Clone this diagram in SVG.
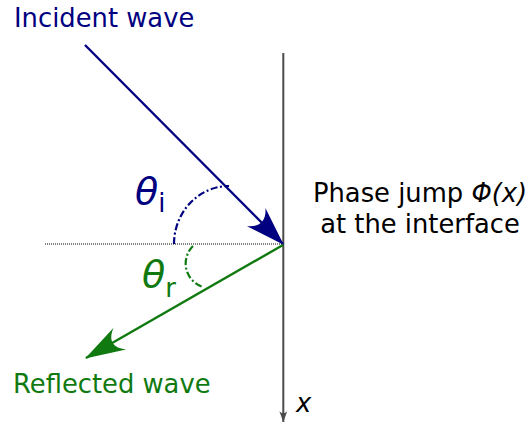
<svg xmlns="http://www.w3.org/2000/svg" width="530" height="424" viewBox="0 0 530 424">
  <style>
    text { font-family: "DejaVu Sans", "Liberation Sans", sans-serif; font-size: 25.8px; }
    .blue { fill: #000080; }
    .green { fill: #107a10; }
    .dark { fill: #000000; }
    .it { font-style: italic; }
    .ln-blue { stroke: #000080; stroke-width: 2.4; fill: none; }
    .ln-green { stroke: #107a10; stroke-width: 2.4; fill: none; }
    .arc { stroke-width: 2.2; stroke-dasharray: 7,2.5,2,2.5; fill: none; }
  </style>
  <defs>
    <marker id="ah-blue" markerUnits="userSpaceOnUse" orient="auto" markerWidth="44" markerHeight="30" refX="0" refY="0" viewBox="-40 -15 44 30" overflow="visible">
      <path d="M1,0 L-38,-13 C-28,-4.5 -28,4.5 -38,13 Z" fill="#000080"/>
    </marker>
    <marker id="ah-green" markerUnits="userSpaceOnUse" orient="auto" markerWidth="44" markerHeight="30" refX="0" refY="0" viewBox="-40 -15 44 30" overflow="visible">
      <path d="M1,0 L-39,-12.5 C-28,-4.5 -28,4.5 -39,12.5 Z" fill="#107a10"/>
    </marker>
    <marker id="ah-gray" markerUnits="userSpaceOnUse" orient="auto" markerWidth="14" markerHeight="10" refX="0" refY="0" viewBox="-12 -5 14 10" overflow="visible">
      <path d="M0,0 L-11,-4 C-8,-1.4 -8,1.4 -11,4 Z" fill="#4a4a4a"/>
    </marker>
  </defs>

  <g id="connectors">
    <line id="normal" x1="45" y1="244" x2="283" y2="244" stroke="#000" stroke-width="1" stroke-dasharray="1,1"/>
    <line id="interface-axis" x1="283.3" y1="53" x2="283.3" y2="422" stroke="#4a4a4a" stroke-width="2" marker-end="url(#ah-gray)"/>
    <line id="incident-ray" class="ln-blue" x1="85" y1="45" x2="283" y2="244" marker-end="url(#ah-blue)"/>
    <line id="reflected-ray" class="ln-green" x1="283" y1="245" x2="86" y2="358" marker-end="url(#ah-green)"/>
  </g>

  <g id="angle-incident">
    <path class="arc" stroke="#000080" d="M174,244 A55,58 0 0 1 229,186"/>
    <text x="135" y="204" class="blue"><tspan class="it" font-size="38">θ</tspan><tspan dy="8">i</tspan></text>
  </g>

  <g id="angle-reflected">
    <path class="arc" stroke="#107a10" d="M193,246 A24.6,24.6 0 0 0 203,287"/>
    <text x="142" y="287" class="green"><tspan class="it" font-size="38">θ</tspan><tspan dy="10">r</tspan></text>
  </g>

  <g id="label-incident">
    <text x="14" y="27" class="blue">Incident wave</text>
  </g>

  <g id="label-reflected">
    <text x="13" y="393" class="green">Reflected wave</text>
  </g>

  <g id="label-interface">
    <text x="420" y="202" text-anchor="middle" class="dark">Phase jump <tspan class="it">Φ(x)</tspan></text>
    <text x="420" y="233" text-anchor="middle" class="dark">at the interface</text>
  </g>

  <g id="label-x">
    <text x="296" y="412" class="dark it">x</text>
  </g>
</svg>
